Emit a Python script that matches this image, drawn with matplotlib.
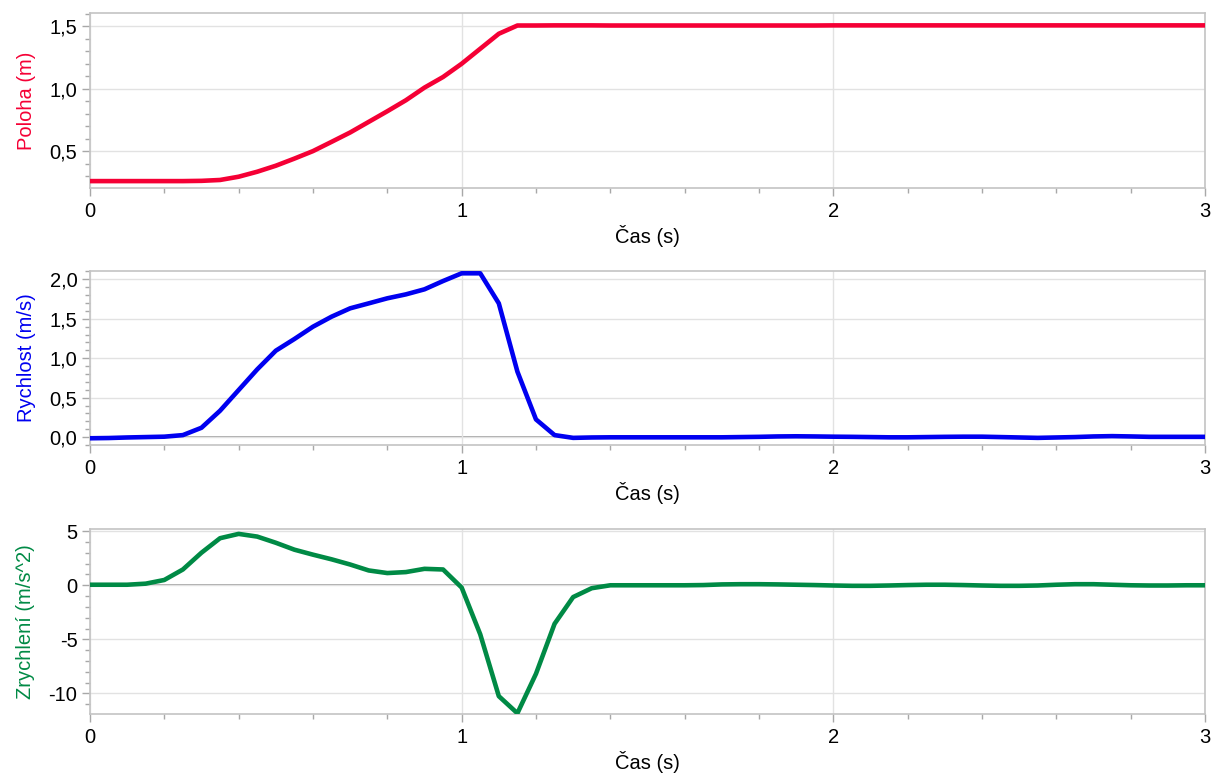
import numpy as np
import matplotlib.pyplot as plt
from matplotlib.ticker import MultipleLocator, FuncFormatter

plt.rcParams['font.family'] = ['Liberation Sans', 'DejaVu Sans']

# time samples, 0.05 s step
cas = np.round(np.arange(0, 3.0001, 0.05), 2)

poloha = [0.26, 0.26, 0.26, 0.26, 0.26, 0.26, 0.262, 0.269, 0.295, 0.335,
          0.383, 0.44, 0.50, 0.574, 0.649, 0.734, 0.819, 0.907, 1.008, 1.093,
          1.199, 1.319, 1.439, 1.505, 1.505, 1.506, 1.506, 1.506, 1.505, 1.505,
          1.505, 1.505, 1.505, 1.505, 1.505, 1.505, 1.505, 1.505, 1.505, 1.505,
          1.506, 1.506, 1.506, 1.506, 1.506, 1.506, 1.506, 1.506, 1.506, 1.506,
          1.506, 1.506, 1.506, 1.506, 1.506, 1.506, 1.506, 1.506, 1.506, 1.506,
          1.506]

rychlost = [-0.015, -0.012, -0.005, 0.0, 0.005, 0.025, 0.118, 0.334, 0.596, 0.858,
            1.095, 1.243, 1.399, 1.526, 1.632, 1.695, 1.759, 1.809, 1.873, 1.978,
            2.076, 2.076, 1.695, 0.83, 0.224, 0.025, -0.01, -0.005, -0.003, -0.003,
            -0.003, -0.003, -0.003, -0.003, -0.003, 0.0, 0.003, 0.008, 0.01, 0.008,
            0.005, 0.003, 0.0, -0.003, -0.003, 0.0, 0.003, 0.005, 0.005, 0.0,
            -0.005, -0.01, -0.005, 0.0, 0.008, 0.012, 0.008, 0.003, 0.003, 0.003,
            0.003]

zrychleni = [0.05, 0.05, 0.05, 0.15, 0.49, 1.46, 3.01, 4.35, 4.75, 4.5,
             3.93, 3.29, 2.83, 2.4, 1.92, 1.37, 1.13, 1.22, 1.52, 1.46,
             -0.21, -4.53, -10.25, -11.83, -8.18, -3.56, -1.09, -0.27, 0.0, 0.0,
             0.0, 0.0, 0.0, 0.02, 0.08, 0.1, 0.1, 0.08, 0.05, 0.02,
             -0.02, -0.05, -0.05, -0.02, 0.02, 0.05, 0.05, 0.02, -0.02, -0.05,
             -0.05, -0.02, 0.05, 0.1, 0.1, 0.05, 0.0, -0.02, -0.02, 0.0,
             0.0]

popisky = ['Poloha (m)', 'Rychlost (m/s)', 'Zrychlení (m/s^2)']
barvy = ['#f50035', '#0000f0', '#008a45']
rozsahy = [(0.205, 1.605), (-0.10, 2.105), (-11.9, 5.2)]
hlavni = [0.5, 0.5, 5]
vedlejsi = [0.1, 0.1, 1]
desetiny = [1, 1, 0]
pozice = [[0.0741, 0.7587, 0.9185, 0.2246],
          [0.0741, 0.4288, 0.9185, 0.2233],
          [0.0741, 0.0834, 0.9185, 0.2375]]

fig = plt.figure(figsize=(12.14, 7.79), dpi=100)

for i, data in enumerate([poloha, rychlost, zrychleni]):
    ax = fig.add_axes(pozice[i])
    ax.plot(cas, data, color=barvy[i], lw=3.3, solid_joinstyle='round', zorder=3)
    ax.set_xlim(0, 3)
    ax.set_ylim(*rozsahy[i])

    ax.xaxis.set_major_locator(MultipleLocator(1))
    ax.xaxis.set_minor_locator(MultipleLocator(0.2))
    ax.yaxis.set_major_locator(MultipleLocator(hlavni[i]))
    ax.yaxis.set_minor_locator(MultipleLocator(vedlejsi[i]))
    d = desetiny[i]
    ax.yaxis.set_major_formatter(FuncFormatter(
        lambda v, p, d=d: (f'{v:.{d}f}').replace('.', ',').replace('-0,0', '0,0')))
    ax.xaxis.set_major_formatter(FuncFormatter(lambda v, p: f'{v:.0f}'))

    ax.grid(True, which='major', color='#e2e2e2', lw=1.0, zorder=0)
    if i > 0:
        ax.axhline(0, color='#9a9a9a', lw=1.2, zorder=1)

    for s in ax.spines.values():
        s.set_color('#c4c4c4')
        s.set_linewidth(1.2)

    ax.tick_params(which='major', length=6, width=1, color='#a8a8a8',
                   labelsize=14.5, pad=3)
    ax.tick_params(which='minor', length=3.5, width=1, color='#a8a8a8')
    ax.tick_params(axis='x', which='major', pad=4)

    ax.set_ylabel(popisky[i], color=barvy[i], fontsize=14.5, labelpad=10)
    ax.set_xlabel('Čas (s)', fontsize=14.5, labelpad=3)

fig.savefig('out.png', dpi=100)
